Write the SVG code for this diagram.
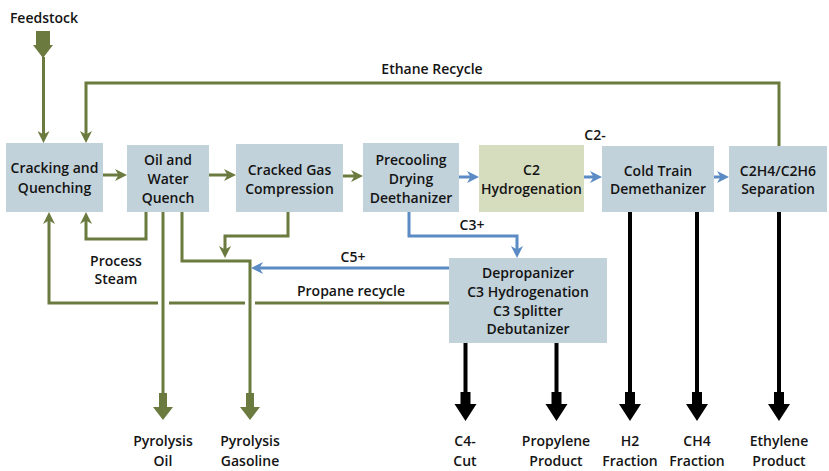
<svg xmlns="http://www.w3.org/2000/svg" width="829" height="471" viewBox="0 0 829 471">
<defs>
<style>
text{font-family:"Open Sans","Liberation Sans",sans-serif;font-weight:600;font-size:14px;fill:#141414;text-anchor:middle}
.box{fill:#c2d2da}
.box2{fill:#d6dcbe}
.g{fill:none;stroke:#6b7a3e;stroke-width:3}
.b{fill:none;stroke:#5b8bc4;stroke-width:3}
.k{fill:none;stroke:#000;stroke-width:4}
.gf{fill:#6b7a3e}
.kf{fill:#000}
</style>
<marker id="ag" viewBox="0 0 12 12" refX="6" refY="6" markerWidth="12" markerHeight="12" markerUnits="userSpaceOnUse" orient="auto">
<path d="M0,0 L12,6 L0,12 L3.5,6 z" fill="#6b7a3e"/>
</marker>
<marker id="ab" viewBox="0 0 12 12" refX="6" refY="6" markerWidth="12" markerHeight="12" markerUnits="userSpaceOnUse" orient="auto">
<path d="M0,0 L12,6 L0,12 L3.5,6 z" fill="#5b8bc4"/>
</marker>
</defs>
<rect width="829" height="471" fill="#fff"/>

<g id="connectors">
<!-- green -->
<polygon class="gf" points="36,31 50,31 50,45 53,45 43,58 33,45 36,45"/>
<path class="g" d="M43.5,57 V137" marker-end="url(#ag)"/>
<path class="g" d="M779,146 V83 H86 V137" marker-end="url(#ag)"/>
<path class="g" d="M103,175 H121" marker-end="url(#ag)"/>
<path class="g" d="M209,175 H230" marker-end="url(#ag)"/>
<path class="g" d="M343,176 H357" marker-end="url(#ag)"/>
<path class="g" d="M146,212 V239 H86 V218" marker-end="url(#ag)"/>
<path class="g" d="M449,303 H255 M245,303 H169 M158,303 H49 V218" marker-end="url(#ag)"/>
<path class="g" d="M163,212 V394"/>
<polygon class="gf" points="159,393 167,393 167,407 173,407 163,420 153,407 159,407"/>
<path class="g" d="M182,212 V261 H250 V394"/>
<polygon class="gf" points="246,393 254,393 254,407 260,407 250,420 240,407 246,407"/>
<path class="g" d="M288,212 V236 H225 V252" marker-end="url(#ag)"/>
<!-- blue -->
<path class="b" d="M459,177 H473" marker-end="url(#ab)"/>
<path class="b" d="M584,177 H596" marker-end="url(#ab)"/>
<path class="b" d="M714,177 H723" marker-end="url(#ab)"/>
<path class="b" d="M409,212 V236 H517 V252" marker-end="url(#ab)"/>
<path class="b" d="M449,268 H257" marker-end="url(#ab)"/>
<!-- black -->
<path class="k" d="M465.5,343 V393"/>
<polygon class="kf" points="460.5,392 470.5,392 470.5,404 476.5,404 465.5,421 454.5,404 460.5,404"/>
<path class="k" d="M556.5,343 V393"/>
<polygon class="kf" points="551.5,392 561.5,392 561.5,404 567.5,404 556.5,421 545.5,404 551.5,404"/>
<path class="k" d="M630,212 V393"/>
<polygon class="kf" points="625,392 635,392 635,404 641,404 630,421 619,404 625,404"/>
<path class="k" d="M697,212 V393"/>
<polygon class="kf" points="692,392 702,392 702,404 708,404 697,421 686,404 692,404"/>
<path class="k" d="M779,212 V393"/>
<polygon class="kf" points="774,392 784,392 784,404 790,404 779,421 768,404 774,404"/>
</g>

<g id="labels">
<text x="44" y="23">Feedstock</text>
<text x="432" y="74">Ethane Recycle</text>
<text x="595" y="140">C2-</text>
<text x="472" y="230">C3+</text>
<text x="353" y="262">C5+</text>
<text x="351" y="296">Propane recycle</text>
<text x="116" y="266">Process</text>
<text x="116" y="284">Steam</text>
<text x="163" y="446">Pyrolysis</text>
<text x="163" y="466">Oil</text>
<text x="250" y="446">Pyrolysis</text>
<text x="250" y="466">Gasoline</text>
<text x="465" y="446">C4-</text>
<text x="465" y="466">Cut</text>
<text x="556" y="446">Propylene</text>
<text x="556" y="466">Product</text>
<text x="630" y="446">H2</text>
<text x="630" y="466">Fraction</text>
<text x="697" y="446">CH4</text>
<text x="697" y="466">Fraction</text>
<text x="779" y="446">Ethylene</text>
<text x="779" y="466">Product</text>
</g>

<g id="cracking">
<rect class="box" x="6" y="143" width="97" height="69"/>
<text x="54.5" y="173">Cracking and</text>
<text x="54.5" y="193">Quenching</text>
</g>
<g id="oil-water-quench">
<rect class="box" x="127" y="145" width="82" height="67"/>
<text x="168" y="165">Oil and</text>
<text x="168" y="184">Water</text>
<text x="168" y="203">Quench</text>
</g>
<g id="cracked-gas">
<rect class="box" x="236" y="144" width="107" height="68"/>
<text x="289.5" y="175">Cracked Gas</text>
<text x="289.5" y="194">Compression</text>
</g>
<g id="precooling">
<rect class="box" x="363" y="143" width="96" height="69"/>
<text x="411" y="165">Precooling</text>
<text x="411" y="184">Drying</text>
<text x="411" y="203">Deethanizer</text>
</g>
<g id="c2-hydrogenation">
<rect class="box2" x="479" y="145" width="105" height="67"/>
<text x="531.5" y="175">C2</text>
<text x="531.5" y="194">Hydrogenation</text>
</g>
<g id="cold-train">
<rect class="box" x="602" y="146" width="112" height="66"/>
<text x="658" y="176">Cold Train</text>
<text x="658" y="194">Demethanizer</text>
</g>
<g id="separation">
<rect class="box" x="729" y="146" width="98" height="66"/>
<text x="778" y="176">C2H4/C2H6</text>
<text x="778" y="194">Separation</text>
</g>
<g id="depropanizer">
<rect class="box" x="449" y="258" width="158" height="85"/>
<text x="528" y="278">Depropanizer</text>
<text x="528" y="297">C3 Hydrogenation</text>
<text x="528" y="316">C3 Splitter</text>
<text x="528" y="334">Debutanizer</text>
</g>
</svg>
